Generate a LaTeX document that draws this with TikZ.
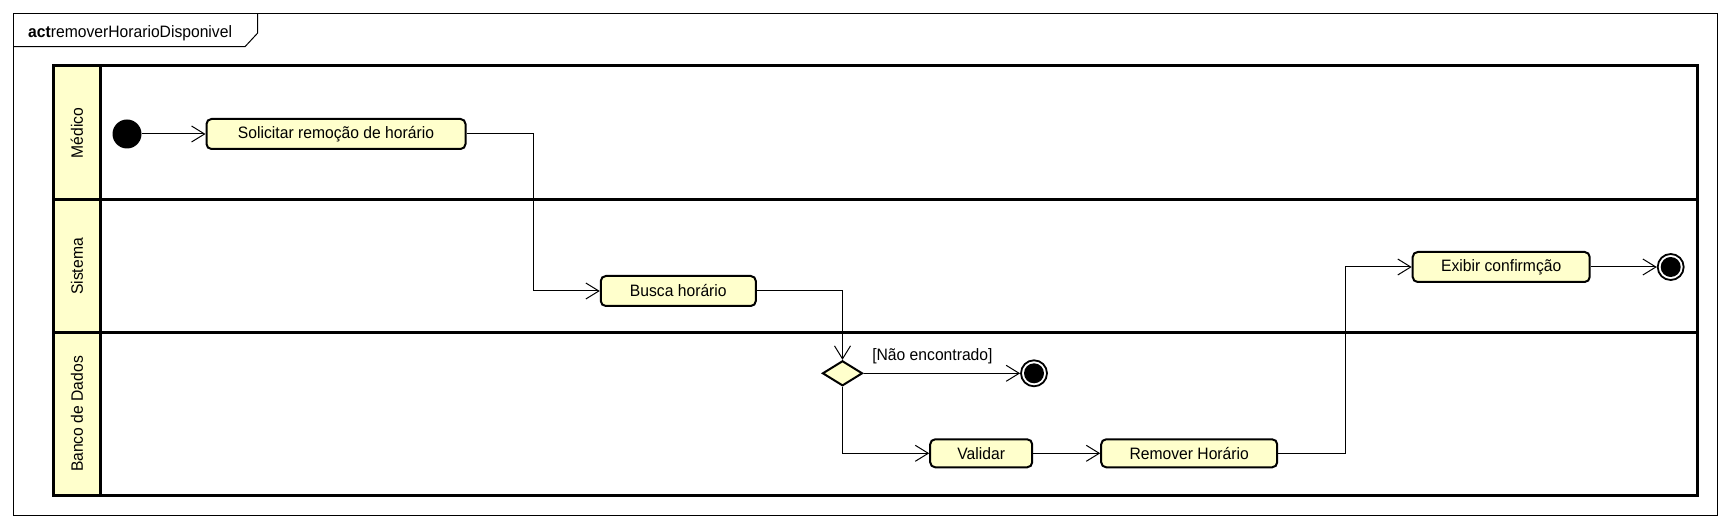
\documentclass[tikz,border=0pt]{standalone}
\usepackage{fontspec}
\setmainfont[FakeStretch=0.95]{Liberation Sans}
\usetikzlibrary{arrows.meta,shapes.geometric}
\definecolor{umlyellow}{HTML}{FFFFCC}
\begin{document}
\begin{tikzpicture}[x=1pt,y=-1pt,
  every node/.style={font=\fontsize{16.5}{19}\selectfont},
  action/.style={draw, line width=2pt, rounded corners=5pt, fill=umlyellow,
    minimum height=30pt, inner sep=0pt},
  arr/.style={line width=1pt, -{Straight Barb[length=13pt,width=16pt,line width=1pt]}},
  lane/.style={line width=3pt},
  lanelabel/.style={rotate=90, inner sep=0pt},
  initnode/.style={circle, fill=black, minimum size=29pt, inner sep=0pt},
  finalnode/.style={circle, draw, line width=1.8pt, fill=white, minimum size=26pt, inner sep=0pt,
    path picture={\fill[black] (path picture bounding box.center) circle (10pt);}},
  decision/.style={diamond, draw, line width=2pt, fill=umlyellow, minimum width=40pt,
    minimum height=25pt, inner sep=0pt}
]
\useasboundingbox (0,0) rectangle (1730,529);
% outer frame and title tab
\draw[line width=1pt] (13.3,13.3) rectangle (1717.7,515);
\draw[line width=1pt] (13.3,46.7) -- (245,46.7) -- (257.7,33) -- (257.7,13.3);
\node[anchor=base west, inner sep=0pt] (title) at (28,37.3) {\textbf{act}removerHorarioDisponivel};
% swimlanes
\fill[umlyellow] (53,66) rectangle (100,495);
\draw[lane] (53,66) rectangle (1697,495);
\draw[lane] (100,66) -- (100,495);
\draw[lane] (53,200) -- (1697,200);
\draw[lane] (53,333) -- (1697,333);
\node[lanelabel] (lmed) at (77,133) {Médico};
\node[lanelabel] (lsis) at (77,266.5) {Sistema};
\node[lanelabel] (lbd) at (77,414) {Banco de Dados};
% nodes
\node[initnode] (init) at (127,134) {};
\node[action, minimum width=259pt] (sol) at (336,134) {Solicitar remoção de horário};
\node[action, minimum width=155pt] (busca) at (678.3,291) {Busca horário};
\node[decision] (dec) at (842.5,373.3) {};
\node[finalnode] (fin1) at (1034,373.3) {};
\node[action, minimum width=102pt, minimum height=28pt] (val) at (981.2,453.3) {Validar};
\node[action, minimum width=176pt, minimum height=28pt] (rem) at (1189.2,453.3) {Remover Horário};
\node[action, minimum width=177pt] (exi) at (1501.2,267) {Exibir confirmção};
\node[finalnode] (fin2) at (1670.7,267) {};
% connectors
\draw[arr] (init) -- (sol);
\draw[arr] (sol.east) -- ++(66.6,0) |- (busca.west);
\draw[arr] (busca.east) -| (dec.north);
\draw[arr] (dec.east) -- node[pos=0.44, above=9pt, inner sep=0pt] (lbl) {[Não encontrado]} (fin1);
\draw[arr] (dec.south) |- (val.west);
\draw[arr] (val) -- (rem);
\draw[arr] (rem.east) -- ++(67.4,0) |- (exi.west);
\draw[arr] (exi) -- (fin2);
\end{tikzpicture}
\end{document}
